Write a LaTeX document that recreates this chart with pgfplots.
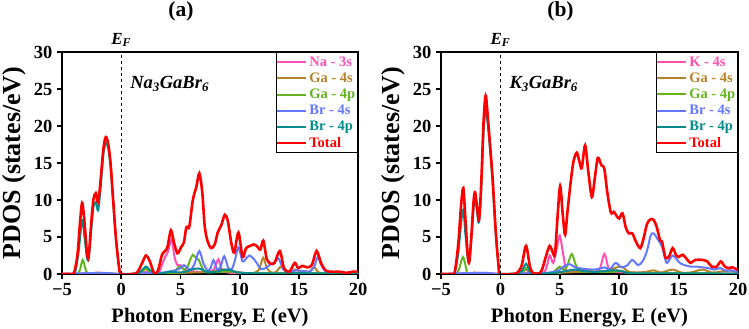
\documentclass[border=0pt]{standalone}
\usepackage{pgfplots}
\pgfplotsset{compat=1.18}
\usepackage{fontspec}
\setmainfont{Liberation Serif}

\definecolor{cpink}{RGB}{255,80,180}
\definecolor{cbrown}{RGB}{180,130,40}
\definecolor{cgreen}{RGB}{100,180,30}
\definecolor{cblue}{RGB}{100,120,255}
\definecolor{cteal}{RGB}{0,140,140}
\definecolor{cred}{RGB}{255,0,0}

\pgfplotsset{
  pdosaxis/.style={
    scale only axis, height=222pt,
    xmin=-5, xmax=20, ymin=0, ymax=30,
    xtick={-5,0,5,10,15,20}, xticklabels={−5,0,5,10,15,20},
    ytick={0,5,10,15,20,25,30},
    tick align=outside, xtick pos=left, ytick pos=left,
    /pgf/number format/assume math mode=true,
    tick label style={font=\fontsize{18.5}{20}\selectfont\bfseries},
    xticklabel style={yshift=-1pt},
    yticklabel style={xshift=-1pt},
    axis line style={line width=2.2pt},
    major tick length=5pt,
    every tick/.style={black, line width=1.8pt},
    xlabel={Photon Energy, E (eV)},
    ylabel={PDOS (states/eV)},
    xlabel style={font=\fontsize{20.5}{22}\selectfont\bfseries, yshift=-5pt},
    ylabel style={font=\fontsize{26}{28}\selectfont\bfseries, yshift=1pt},
    title style={font=\fontsize{21.5}{23}\selectfont\bfseries, yshift=21pt, xshift=-29pt},
    legend style={at={(1,1)}, anchor=north east, draw=black, line width=1.5pt,
      fill=white, font=\fontsize{14.5}{15.5}\selectfont\bfseries,
      inner xsep=0pt, inner ysep=2pt, row sep=1pt},
    legend cell align=left,
    legend image code/.code={\draw[#1, line width=2pt] (0pt,0pt) -- (29pt,0pt);},
    every axis plot/.append style={smooth, tension=0.5, no markers, line width=2pt},
  }
}

\begin{document}
\begin{tikzpicture}
\useasboundingbox (0,0) rectangle (749pt,329pt);

% ---------------- (a) Na3GaBr6 ----------------
\begin{axis}[pdosaxis, name=A, at={(62pt,55pt)}, anchor=south west, width=296pt, title={(a)}]
\addplot[cpink] coordinates {(-5,0) (-3,0.05) (-2.5,0.1) (-2.0,0.2) (-1.5,0.15) (-1,0.1) (0,0) (1.5,0) (2.1,0.3) (2.6,0.05) (3.2,0.3) (3.5,1.5) (3.75,2.4) (3.95,3.0) (4.25,4.7) (4.5,2.3) (4.75,1.2) (5.0,1.2) (5.3,0.6) (5.8,0.4) (6.5,0.3) (7.5,0.3) (7.9,0.8) (8.2,2.0) (8.5,0.6) (9.0,0.2) (10,0.15) (12,0.1) (15,0.1) (20,0.05)};
\addlegendentry{\textcolor{cpink}{Na - 3s}}
\addplot[cbrown] coordinates {(-5,0) (-3,0.05) (-2.2,0.15) (-1.5,0.1) (0,0) (2,0.1) (4,0.1) (6,0.2) (7.5,0.3) (8.5,0.6) (9.3,0.4) (10,0.2) (11.0,0.1) (11.6,0.5) (12.0,2.2) (12.3,0.8) (12.7,0.2) (13.1,0.3) (13.5,1.0) (13.9,0.3) (14.3,0.2) (14.7,0.6) (15.1,0.3) (15.5,0.4) (15.9,0.3) (16.3,0.9) (16.7,0.2) (17.5,0.1) (20,0.05)};
\addlegendentry{\textcolor{cbrown}{Ga - 4s}}
\addplot[cgreen] coordinates {(-5,0) (-3.8,0) (-3.5,0.5) (-3.25,1.9) (-3.0,0.6) (-2.8,0.1) (-2,0.05) (0,0) (1.5,0) (1.9,0.5) (2.1,0.7) (2.4,0.3) (2.8,0) (4.0,0.1) (4.5,0.3) (4.8,0.9) (5.05,1.0) (5.3,0.6) (5.6,1.0) (5.85,2.0) (6.05,2.6) (6.3,2.2) (6.55,1.9) (6.8,1.0) (7.1,0.3) (7.5,0.2) (8.5,0.3) (9.5,0.3) (10,0.2) (11,0.1) (14,0.1) (20,0.05)};
\addlegendentry{\textcolor{cgreen}{Ga - 4p}}
\addplot[cblue] coordinates {(-5,0) (-3.3,0.1) (-2,0.1) (-1,0.1) (0,0) (2,0.1) (3.5,0.2) (4.2,0.4) (4.6,0.5) (5.0,0.8) (5.3,1.2) (5.6,0.8) (5.9,0.6) (6.2,1.4) (6.6,3.1) (6.95,1.4) (7.3,0.5) (7.55,0.8) (7.8,1.9) (8.1,0.6) (8.4,1.0) (8.7,2.4) (9.05,0.8) (9.35,0.7) (9.6,1.8) (9.9,3.6) (10.25,1.7) (10.5,2.0) (10.8,2.5) (11.1,2.2) (11.4,1.6) (11.8,0.7) (12.2,0.8) (12.6,1.3) (13.0,1.6) (13.3,2.1) (13.7,0.6) (14.2,0.3) (14.8,0.5) (15.3,0.4) (15.9,0.3) (16.3,1.0) (16.6,2.3) (16.9,1.2) (17.3,0.3) (18,0.15) (20,0.15)};
\addlegendentry{\textcolor{cblue}{Br - 4s}}
\addplot[cteal] coordinates {(-5,0) (-4.2,0) (-3.9,0.2) (-3.6,3.0) (-3.3,7.3) (-3.1,5.0) (-2.9,2.3) (-2.75,2.0) (-2.55,5.5) (-2.35,9.0) (-2.15,9.7) (-1.95,8.6) (-1.75,11.5) (-1.5,16.2) (-1.3,17.7) (-1.1,17.0) (-0.9,14.5) (-0.7,10.2) (-0.45,4.8) (-0.2,1.1) (0,0) (1.2,0) (1.7,0.4) (2.1,1.0) (2.5,0.4) (2.9,0.05) (3.5,0.1) (4.2,0.3) (5.0,0.2) (5.6,0.4) (6.2,0.7) (6.7,0.7) (7.2,0.3) (8.0,0.3) (8.7,0.6) (9.3,0.5) (9.8,0.2) (11,0.1) (13,0.1) (16,0.1) (20,0.05)};
\addlegendentry{\textcolor{cteal}{Br - 4p}}
\addplot[cred, line width=2.6pt] coordinates {(-5,0) (-4.4,0) (-4.0,0.1) (-3.7,2.5) (-3.5,6.5) (-3.3,9.6) (-3.1,7.0) (-2.9,3.0) (-2.75,2.3) (-2.55,6.5) (-2.35,10.0) (-2.15,10.9) (-1.95,9.7) (-1.75,12.5) (-1.5,17.0) (-1.3,18.5) (-1.1,17.6) (-0.9,15.0) (-0.7,10.5) (-0.45,5.0) (-0.2,1.2) (0,0) (1.0,0) (1.4,0.3) (1.8,1.6) (2.1,2.5) (2.4,1.8) (2.75,0.2) (3.0,0.1) (3.2,1.0) (3.45,2.6) (3.7,3.1) (3.9,3.6) (4.2,5.9) (4.45,4.3) (4.75,2.8) (5.05,3.6) (5.3,4.3) (5.5,6.3) (5.75,6.4) (6.05,10.0) (6.35,11.8) (6.6,13.6) (6.85,11.0) (7.05,6.5) (7.3,4.4) (7.6,3.5) (7.9,4.0) (8.15,5.6) (8.45,6.6) (8.75,8.0) (9.0,7.2) (9.3,4.2) (9.55,2.9) (9.9,5.6) (10.25,2.3) (10.55,3.5) (10.9,3.8) (11.2,4.0) (11.45,3.8) (11.75,3.3) (12.0,4.5) (12.3,2.0) (12.65,1.4) (12.95,1.5) (13.4,3.1) (13.75,0.8) (14.2,0.3) (14.65,1.5) (14.95,0.8) (15.3,1.1) (15.7,0.9) (16.1,1.2) (16.5,3.1) (16.9,1.4) (17.3,0.45) (17.8,0.3) (18.5,0.3) (19.0,0.15) (19.5,0.3) (20,0.3)};
\addlegendentry{\textcolor{cred}{Total}}
\addplot[black, dashed, line width=1pt, sharp plot, forget plot] coordinates {(0,0) (0,30)};
\coordinate (efA) at (axis cs:0,30);
\coordinate (cpA) at (axis cs:0.75,25.7);
\end{axis}
\node[anchor=south, inner sep=0pt, font=\fontsize{17}{19}\selectfont\bfseries\itshape] at ([yshift=5pt]efA) {E\textsubscript{F}};
\node[anchor=west, inner sep=0pt, font=\fontsize{18.5}{20}\selectfont\bfseries\itshape] at (cpA) {Na\textsubscript{3}GaBr\textsubscript{6}};

% ---------------- (b) K3GaBr6 ----------------
\begin{axis}[pdosaxis, name=B, at={(441pt,55pt)}, anchor=south west, width=297pt, title={(b)}]
\addplot[cpink] coordinates {(-5,0) (-3.2,0.1) (-1.3,0.15) (0,0) (1.5,0) (2.16,0.6) (2.6,0.05) (3.6,0.1) (3.9,1.0) (4.15,2.5) (4.45,1.5) (4.75,3.5) (5.0,5.2) (5.3,2.5) (5.55,0.5) (6.0,0.3) (7.0,0.6) (7.5,0.4) (8.3,0.5) (8.75,2.7) (9.1,0.8) (9.5,0.3) (11,0.2) (14,0.1) (20,0.05)};
\addlegendentry{\textcolor{cpink}{K - 4s}}
\addplot[cbrown] coordinates {(-5,0) (-2.5,0.05) (-2.2,0.2) (-1.8,0.05) (0,0) (2,0.1) (4,0.1) (5.5,0.2) (7,0.3) (8.5,0.3) (9.5,0.7) (10.0,1.0) (10.4,0.8) (10.8,0.3) (11.5,0.2) (12.3,0.3) (12.9,0.5) (13.5,0.2) (14.5,0.6) (15.2,0.2) (16,0.2) (17,0.6) (17.8,0.2) (18.5,0.3) (19.2,0.5) (20,0.2)};
\addlegendentry{\textcolor{cbrown}{Ga - 4s}}
\addplot[cgreen] coordinates {(-5,0) (-3.8,0) (-3.5,0.6) (-3.15,2.3) (-2.85,0.6) (-2.6,0.05) (0,0) (1.5,0) (1.9,0.3) (2.16,0.8) (2.45,0.2) (2.9,0) (4.2,0.1) (4.7,0.6) (5.0,1.0) (5.3,0.6) (5.6,1.0) (6.0,2.7) (6.35,1.2) (6.7,0.4) (7.5,0.3) (8.5,0.3) (9.5,0.3) (10.2,0.4) (11,0.1) (14,0.1) (20,0.05)};
\addlegendentry{\textcolor{cgreen}{Ga - 4p}}
\addplot[cblue] coordinates {(-5,0) (-3.2,0.1) (-1.3,0.15) (0,0) (2,0.1) (3.5,0.1) (4.5,0.3) (5.0,0.6) (5.5,1.2) (5.9,1.3) (6.3,0.9) (7.0,0.7) (7.8,0.6) (8.3,0.7) (8.8,0.9) (9.2,0.6) (9.7,1.5) (10.2,0.9) (10.7,1.2) (11.1,1.9) (11.6,1.2) (12.0,1.8) (12.35,3.2) (12.65,5.2) (12.9,5.5) (13.2,4.8) (13.6,3.7) (14.0,1.5) (14.5,2.5) (15.1,1.5) (15.5,1.2) (16.0,1.0) (16.5,1.0) (17.0,0.9) (17.5,0.8) (18.0,0.6) (18.5,0.8) (19.0,0.4) (19.4,0.5) (20,0.2)};
\addlegendentry{\textcolor{cblue}{Br - 4s}}
\addplot[cteal] coordinates {(-5,0) (-4.1,0) (-3.85,0.15) (-3.55,2.8) (-3.3,7.0) (-3.12,8.7) (-2.95,5.5) (-2.75,2.2) (-2.62,1.6) (-2.45,4.5) (-2.25,9.0) (-2.12,10.2) (-1.95,8.2) (-1.8,7.0) (-1.62,11.0) (-1.42,19.0) (-1.24,22.3) (-1.05,20.0) (-0.85,16.4) (-0.65,12.2) (-0.4,5.6) (-0.15,0.9) (0,0) (1.3,0) (1.8,0.4) (2.16,1.4) (2.5,0.3) (2.9,0) (4,0.1) (4.8,0.2) (5.5,0.4) (6.3,0.6) (7.0,0.4) (8,0.3) (9.5,0.5) (10.2,0.4) (11,0.1) (14,0.1) (20,0.05)};
\addlegendentry{\textcolor{cteal}{Br - 4p}}
\addplot[cred, line width=2.6pt] coordinates {(-5,0) (-4.1,0) (-3.85,0.2) (-3.55,4.0) (-3.3,9.5) (-3.12,11.6) (-2.95,7.5) (-2.75,2.5) (-2.62,1.7) (-2.45,5.0) (-2.25,10.0) (-2.12,11.0) (-1.95,8.8) (-1.8,7.3) (-1.62,12.0) (-1.42,20.5) (-1.24,24.1) (-1.05,21.0) (-0.85,17.0) (-0.65,12.8) (-0.4,6.0) (-0.15,1.0) (0,0) (1.1,0) (1.5,0.3) (1.8,1.2) (2.16,3.8) (2.5,0.9) (2.8,0.1) (3.3,0.1) (3.55,0.8) (3.8,2.2) (4.15,3.8) (4.45,2.7) (4.6,2.8) (4.8,7.5) (5.03,11.9) (5.25,8.0) (5.45,5.3) (5.65,8.5) (5.9,12.2) (6.15,15.2) (6.43,16.4) (6.65,15.2) (6.85,14.3) (7.13,17.4) (7.4,13.8) (7.7,10.4) (7.95,13.0) (8.2,15.7) (8.5,14.7) (8.75,14.2) (9.0,11.0) (9.3,8.3) (9.55,8.4) (9.8,7.8) (10.0,7.5) (10.28,8.2) (10.55,6.3) (10.8,5.5) (11.1,5.5) (11.4,4.4) (11.77,3.5) (12.05,4.8) (12.35,6.8) (12.65,7.4) (12.9,7.3) (13.15,6.4) (13.45,4.5) (13.6,4.4) (13.9,2.2) (14.2,2.4) (14.5,3.5) (14.8,2.5) (15.0,2.3) (15.35,2.6) (15.7,2.0) (16.0,1.5) (16.4,1.9) (17.0,1.9) (17.4,1.7) (17.8,1.0) (18.2,1.0) (18.55,1.7) (18.9,1.0) (19.2,0.8) (19.5,0.9) (19.8,0.7) (20,0.5)};
\addlegendentry{\textcolor{cred}{Total}}
\addplot[black, dashed, line width=1pt, sharp plot, forget plot] coordinates {(0,0) (0,30)};
\coordinate (efB) at (axis cs:0,30);
\coordinate (cpB) at (axis cs:0.75,25.7);
\end{axis}
\node[anchor=south, inner sep=0pt, font=\fontsize{17}{19}\selectfont\bfseries\itshape] at ([yshift=5pt]efB) {E\textsubscript{F}};
\node[anchor=west, inner sep=0pt, font=\fontsize{18.5}{20}\selectfont\bfseries\itshape] at (cpB) {K\textsubscript{3}GaBr\textsubscript{6}};
\end{tikzpicture}
\end{document}
